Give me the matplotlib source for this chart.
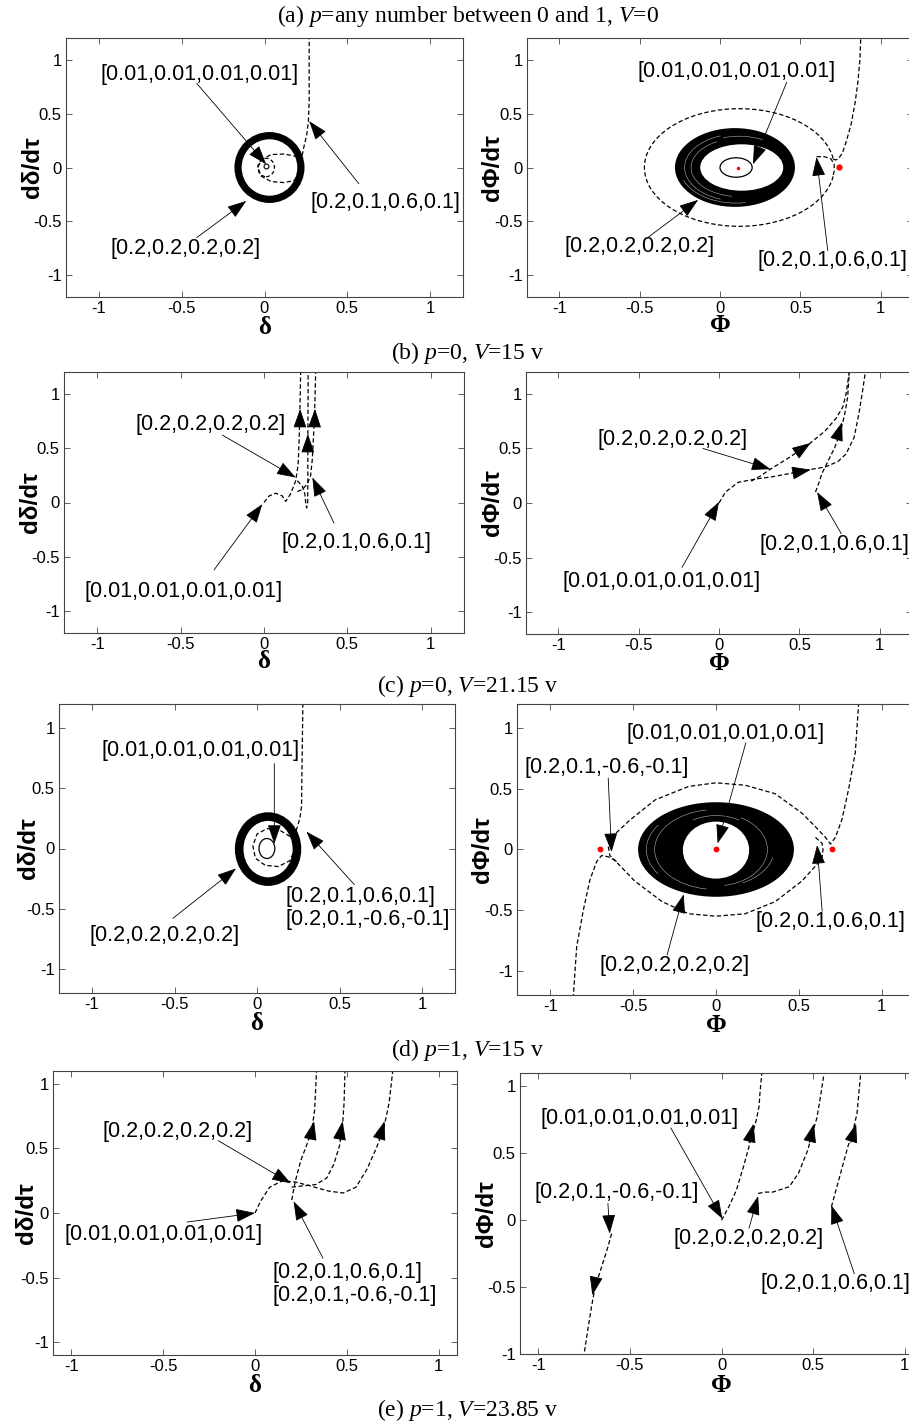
import matplotlib
matplotlib.use('Agg')
import matplotlib.pyplot as plt
from matplotlib.patches import Ellipse, Arc

plt.rcParams['font.family'] = ['Liberation Sans', 'DejaVu Sans']
plt.rcParams['mathtext.fontset'] = 'custom'
plt.rcParams['mathtext.rm'] = 'Liberation Serif'
plt.rcParams['mathtext.it'] = 'Liberation Serif:italic'

W, H = 909, 1425

TICKS = [-1, -0.5, 0, 0.5, 1]
TICK_LABELS = ['-1', '-0.5', '0', '0.5', '1']

CAPTIONS = ['(a) $p$=any number between 0 and 1, $V$=0',
            '(b) $p$=0, $V$=15 v',
            '(c) $p$=0, $V$=21.15 v',
            '(d) $p$=1, $V$=15 v',
            '(e) $p$=1, $V$=23.85 v']
CAPTION_Y = [16, 353, 686, 1050, 1410]

L1 = '[0.01,0.01,0.01,0.01]'
L2 = '[0.2,0.2,0.2,0.2]'
L3 = '[0.2,0.1,0.6,0.1]'
L4 = '[0.2,0.1,-0.6,-0.1]'

# ---- (a) delta
AL_RING = (0.03, 0.0, 0.38, 0.59)
AL_SMALL = (0.01, 0.0, 0.1, 0.17)
AL_T3_X = [0.2, 0.12, 0.04, -0.02, -0.04, -0.02, 0.04, 0.12, 0.18, 0.21, 0.22, 0.235, 0.255, 0.265, 0.27, 0.27, 0.27]
AL_T3_Y = [0.1, 0.125, 0.12, 0.07, 0.0, -0.08, -0.13, -0.14, -0.12, -0.05, 0.05, 0.17, 0.3, 0.42, 0.6, 0.9, 1.2]

# ---- (a) phi
AR_OUTER = (0.093, 0.0, 0.746, 0.73)
AR_INNER = (0.135, 0.0, 0.516, 0.43)
AR_SMALL = (0.10, 0.0, 0.2, 0.18)
AR_LOOP = (0.12, 0.0, 1.18, 1.09, 8, 352)
AR_START_X = [0.6, 0.65, 0.69, 0.71, 0.71, 0.704]
AR_START_Y = [0.1, 0.1, 0.08, 0.03, -0.03, -0.076]
AR_EXIT_X = [0.704, 0.72, 0.735, 0.76, 0.785, 0.815, 0.84, 0.858, 0.87, 0.875]
AR_EXIT_Y = [0.076, 0.07, 0.08, 0.13, 0.24, 0.4, 0.6, 0.8, 1.0, 1.2]
AR_EQ_X = [0.74]
AR_EQ_Y = [0.005]

# ---- (b) delta
BL_T1_X = [0.0, 0.03, 0.07, 0.11, 0.13, 0.16, 0.19, 0.205, 0.21, 0.215, 0.22]
BL_T1_Y = [0.0, 0.06, 0.085, 0.06, 0.01, 0.08, 0.2, 0.35, 0.55, 0.8, 1.2]
BL_T2_X = [0.2, 0.23, 0.245, 0.25, 0.256, 0.262, 0.263, 0.263, 0.264, 0.265]
BL_T2_Y = [0.2, 0.15, 0.08, 0.0, -0.05, 0.0, 0.2, 0.5, 0.8, 1.2]
BL_T3_X = [0.2, 0.23, 0.26, 0.28, 0.29, 0.295, 0.3, 0.305, 0.31]
BL_T3_Y = [0.1, 0.12, 0.17, 0.25, 0.4, 0.55, 0.7, 0.9, 1.2]

# ---- (b) phi
BR_T1_X = [0.0, 0.04, 0.12, 0.23, 0.33, 0.44, 0.54, 0.66, 0.74, 0.79, 0.84, 0.87, 0.89, 0.91]
BR_T1_Y = [0.0, 0.1, 0.19, 0.22, 0.24, 0.27, 0.3, 0.33, 0.38, 0.45, 0.6, 0.82, 1.0, 1.2]
BR_T2_X = [0.2, 0.26, 0.32, 0.44, 0.56, 0.66, 0.73, 0.77, 0.79, 0.81]
BR_T2_Y = [0.2, 0.25, 0.31, 0.42, 0.54, 0.66, 0.78, 0.88, 1.0, 1.2]
BR_T3_X = [0.6, 0.62, 0.64, 0.68, 0.72, 0.75, 0.78, 0.8, 0.81]
BR_T3_Y = [0.1, 0.18, 0.27, 0.39, 0.51, 0.63, 0.8, 0.97, 1.2]

# ---- (c) delta
CL_RING = (0.067, -0.005, 0.35, 0.54)
CL_SMALL = (0.06, 0.0, 0.096, 0.166)
CL_T3_X = [0.2, 0.14, 0.06, 0.0, -0.025, -0.01, 0.05, 0.13, 0.2, 0.225, 0.225, 0.24, 0.26, 0.27, 0.272, 0.275, 0.278]
CL_T3_Y = [0.1, 0.15, 0.165, 0.12, 0.02, -0.08, -0.14, -0.15, -0.1, -0.02, 0.06, 0.16, 0.25, 0.35, 0.6, 0.9, 1.2]

# ---- (c) phi
CR_OUTER = (0.0, 0.0, 0.94, 0.78)
CR_INNER = (0.0, -0.005, 0.4, 0.47)
CR_T3_X = [0.6, 0.64, 0.645, 0.64, 0.617, 0.518, 0.357, 0.176, 0.0, -0.165, -0.325, -0.49, -0.61, -0.65, -0.69,
           -0.72, -0.76, -0.8, -0.84, -0.86]
CR_T3_Y = [0.1, 0.05, 0.0, -0.06, -0.11, -0.26, -0.43, -0.53, -0.55, -0.53, -0.43, -0.26, -0.09, -0.06, -0.05,
           -0.1, -0.25, -0.5, -0.8, -1.2]
CR_T4_X = [-0.6, -0.64, -0.65, -0.627, -0.518, -0.366, -0.165, 0.0, 0.176, 0.357, 0.518, 0.598, 0.66, 0.69,
           0.72, 0.76, 0.8, 0.84, 0.86]
CR_T4_Y = [-0.1, -0.05, 0.03, 0.105, 0.244, 0.41, 0.52, 0.55, 0.53, 0.46, 0.3, 0.19, 0.1, 0.045, 0.1, 0.25, 0.5,
           0.8, 1.2]
CR_EQ_X = [-0.7, 0.0, 0.7]
CR_EQ_Y = [0.0, 0.0, 0.0]

# ---- (d) delta
DL_T1_X = [0.0, 0.03, 0.08, 0.15, 0.22, 0.3, 0.4, 0.48, 0.55, 0.61, 0.66, 0.7, 0.73, 0.75]
DL_T1_Y = [0.0, 0.09, 0.2, 0.25, 0.24, 0.21, 0.17, 0.155, 0.2, 0.34, 0.5, 0.65, 0.85, 1.1]
DL_T2_X = [0.2, 0.26, 0.33, 0.39, 0.43, 0.46, 0.475, 0.485, 0.49]
DL_T2_Y = [0.2, 0.21, 0.22, 0.27, 0.38, 0.52, 0.65, 0.85, 1.1]
DL_T3_X = [0.2, 0.22, 0.25, 0.28, 0.31, 0.325, 0.33, 0.335]
DL_T3_Y = [0.1, 0.25, 0.41, 0.52, 0.65, 0.8, 0.95, 1.1]

# ---- (d) phi
DR_T1_X = [0.0, 0.04, 0.08, 0.12, 0.16, 0.19, 0.205, 0.21, 0.22]
DR_T1_Y = [0.0, 0.1, 0.22, 0.4, 0.6, 0.75, 0.85, 0.95, 1.1]
DR_T2_X = [0.2, 0.24, 0.28, 0.37, 0.42, 0.47, 0.5, 0.52, 0.54, 0.56]
DR_T2_Y = [0.2, 0.21, 0.21, 0.25, 0.35, 0.52, 0.67, 0.76, 0.92, 1.1]
DR_T3_X = [0.6, 0.63, 0.66, 0.69, 0.72, 0.74, 0.75, 0.76]
DR_T3_Y = [0.1, 0.25, 0.4, 0.55, 0.68, 0.8, 0.95, 1.1]
DR_T4_X = [-0.6, -0.62, -0.65, -0.69, -0.71, -0.73, -0.75]
DR_T4_Y = [-0.1, -0.2, -0.33, -0.5, -0.65, -0.82, -1.0]

fig = plt.figure(figsize=(W / 100, H / 100), dpi=100)
DASH = (0, (3.5, 2))


def make_ax(l, t, r, b, xlim, ylim, xl, yl, yoff, xoff):
    ax = fig.add_axes([l / W, 1 - b / H, (r - l) / W, (b - t) / H])
    ax.set_xlim(xlim)
    ax.set_ylim(ylim)
    ax.set_xticks(TICKS)
    ax.set_xticklabels(TICK_LABELS)
    ax.set_yticks(TICKS)
    ax.set_yticklabels(TICK_LABELS)
    ax.tick_params(direction='in', top=True, right=True, length=4, width=0.6,
                   color='#444444', labelsize=12, labelcolor='k')
    ax.tick_params(axis='x', pad=3)
    ax.tick_params(axis='y', pad=3)
    for s in ax.spines.values():
        s.set_linewidth(0.8)
        s.set_color('#444444')
    ax.set_ylabel(yl, fontsize=17.5, fontweight='bold')
    ax.yaxis.set_label_coords(-yoff / (r - l), 0.5)
    ax.yaxis.label.set_va('center')
    ax.set_xlabel(xl, family='Liberation Serif', fontsize=18, fontweight='bold')
    ax.xaxis.set_label_coords(0.5, -xoff / (b - t))
    ax.xaxis.label.set_va('center')
    return ax


def dashed(ax, xs, ys):
    ax.plot(xs, ys, color='k', lw=0.9, ls=DASH)


def head(ax, tip, tail):
    ax.annotate('', xy=tip, xytext=tail,
                arrowprops=dict(arrowstyle='-|>,head_length=0.8,head_width=0.28', color='k',
                                lw=0.6, shrinkA=0, shrinkB=0, mutation_scale=15))


def label(ax, txt, pos, tail, tip, ha='center'):
    ax.text(pos[0], pos[1], txt, ha=ha, va='center', fontsize=15.5)
    head(ax, tip, tail)


def band(ax, outer, inner, streaks):
    ax.add_patch(Ellipse(outer[:2], outer[2], outer[3], color='k', lw=0))
    ax.add_patch(Ellipse(inner[:2], inner[2], inner[3], color='w', lw=0))
    for (cx, cy, w, h, t1, t2) in streaks:
        ax.add_patch(Arc((cx, cy), w, h, theta1=t1, theta2=t2, color='w', lw=0.4, alpha=0.7))


DLAB = 'd\u03b4/d\u03c4'
PLAB = 'd\u03a6/d\u03c4'
LIM12 = (-1.2, 1.2)

for cap, cy in zip(CAPTIONS, CAPTION_Y):
    fig.text(468 / W, 1 - cy / H, cap, ha='center', va='center', fontsize=17, family='Liberation Serif')

# (a) delta
ax = make_ax(66, 38, 463, 297, LIM12, LIM12, '\u03b4', DLAB, 33, 30)
ax.add_patch(Ellipse(AL_RING[:2], AL_RING[2], AL_RING[3], fill=False, color='k', lw=5.2))
ax.add_patch(Ellipse(AL_SMALL[:2], AL_SMALL[2], AL_SMALL[3], fill=False, color='k', lw=0.9, ls=(0, (3, 2))))
ax.plot([0.01], [0.01], 'o', mfc='none', mec='k', ms=3.5, mew=0.8)
dashed(ax, AL_T3_X, AL_T3_Y)
label(ax, L1, (-0.39, 0.865), (-0.41, 0.78), (0.01, 0.03))
label(ax, L2, (-0.48, -0.75), (-0.41, -0.65), (-0.11, -0.31))
label(ax, L3, (0.73, -0.325), (0.57, -0.15), (0.27, 0.43))

# (a) phi
ax = make_ax(527, 38, 913, 297, LIM12, LIM12, '\u03a6', PLAB, 35, 28)
band(ax, AR_OUTER, AR_INNER, [(0.11, 0.0, 0.66, 0.62, 110, 250), (0.12, 0.0, 0.6, 0.54, 120, 260),
                             (0.1, 0.0, 0.7, 0.66, 200, 280), (0.12, 0.0, 0.62, 0.58, 60, 110)])
ax.add_patch(Ellipse(AR_SMALL[:2], AR_SMALL[2], AR_SMALL[3], fill=False, color='k', lw=0.9))
ax.plot([0.11], [0.0], 'o', color='r', ms=1.5)
ax.add_patch(Arc(AR_LOOP[:2], AR_LOOP[2], AR_LOOP[3], theta1=AR_LOOP[4], theta2=AR_LOOP[5],
                 color='k', lw=0.9, ls=DASH))
dashed(ax, AR_START_X, AR_START_Y)
dashed(ax, AR_EXIT_X, AR_EXIT_Y)
ax.plot(AR_EQ_X, AR_EQ_Y, 'o', color='r', ms=3.5)
label(ax, L1, (0.10, 0.89), (0.415, 0.79), (0.205, 0.03))
label(ax, L2, (-0.50, -0.73), (-0.45, -0.65), (-0.136, -0.30))
label(ax, L3, (0.70, -0.865), (0.67, -0.77), (0.60, 0.096))

# (b) delta
ax = make_ax(64, 372, 464, 633, LIM12, LIM12, '\u03b4', DLAB, 34, 29)
dashed(ax, BL_T1_X, BL_T1_Y)
dashed(ax, BL_T2_X, BL_T2_Y)
dashed(ax, BL_T3_X, BL_T3_Y)
head(ax, (0.217, 0.86), (0.216, 0.72))
head(ax, (0.263, 0.63), (0.263, 0.5))
head(ax, (0.306, 0.86), (0.304, 0.72))
label(ax, L2, (-0.32, 0.72), (-0.25, 0.62), (0.19, 0.23))
label(ax, L3, (0.557, -0.365), (0.42, -0.19), (0.29, 0.23))
label(ax, L1, (-0.48, -0.82), (-0.3, -0.62), (-0.01, -0.015))

# (b) phi
ax = make_ax(526, 372, 912, 634, LIM12, LIM12, '\u03a6', PLAB, 33, 29)
dashed(ax, BR_T1_X, BR_T1_Y)
dashed(ax, BR_T2_X, BR_T2_Y)
dashed(ax, BR_T3_X, BR_T3_Y)
head(ax, (0.57, 0.55), (0.48, 0.46))
head(ax, (0.57, 0.305), (0.46, 0.275))
head(ax, (0.765, 0.74), (0.735, 0.6))
label(ax, L2, (-0.29, 0.58), (-0.1, 0.5), (0.32, 0.31))
label(ax, L3, (0.72, -0.38), (0.76, -0.28), (0.61, 0.1))
label(ax, L1, (-0.36, -0.72), (-0.23, -0.59), (0.0, 0.01))

# (c) delta
ax = make_ax(59, 704, 455, 993, LIM12, LIM12, '\u03b4', DLAB, 31, 31)
ax.add_patch(Ellipse(CL_RING[:2], CL_RING[2], CL_RING[3], fill=False, color='k', lw=6.2))
ax.add_patch(Ellipse(CL_SMALL[:2], CL_SMALL[2], CL_SMALL[3], fill=False, color='k', lw=0.9))
dashed(ax, CL_T3_X, CL_T3_Y)
label(ax, L1, (-0.34, 0.81), (0.105, 0.705), (0.105, 0.04))
label(ax, L2, (-0.56, -0.72), (-0.51, -0.58), (-0.127, -0.166))
ax.text(0.175, -0.40, L3, ha='left', va='center', fontsize=15.5)
label(ax, L4, (0.175, -0.59), (0.59, -0.30), (0.30, 0.14), ha='left')

# (c) phi
ax = make_ax(517, 704, 915, 995, LIM12, LIM12, '\u03a6', PLAB, 34, 31)
band(ax, CR_OUTER, CR_INNER, [(0.0, 0.0, 0.74, 0.66, 100, 260), (0.0, 0.0, 0.62, 0.6, 280, 420),
                             (0.0, 0.0, 0.84, 0.72, 150, 210), (0.0, 0.0, 0.56, 0.56, 60, 120),
                             (0.0, 0.0, 0.7, 0.62, 300, 350)])
dashed(ax, CR_T3_X, CR_T3_Y)
dashed(ax, CR_T4_X, CR_T4_Y)
ax.plot(CR_EQ_X, CR_EQ_Y, 'o', color='r', ms=3.2)
label(ax, L1, (0.056, 0.96), (0.18, 0.88), (0.01, 0.05))
label(ax, L4, (-0.66, 0.675), (-0.65, 0.59), (-0.63, -0.02))
label(ax, L3, (0.69, -0.595), (0.64, -0.51), (0.61, 0.036))
label(ax, L2, (-0.25, -0.96), (-0.295, -0.87), (-0.195, -0.37))

# (d) delta
ax = make_ax(53, 1071, 457, 1355, (-1.1, 1.1), (-1.1, 1.1), '\u03b4', DLAB, 26, 30)
dashed(ax, DL_T1_X, DL_T1_Y)
dashed(ax, DL_T2_X, DL_T2_Y)
dashed(ax, DL_T3_X, DL_T3_Y)
head(ax, (0.322, 0.71), (0.3, 0.57))
head(ax, (0.477, 0.71), (0.46, 0.57))
head(ax, (0.705, 0.71), (0.675, 0.57))
label(ax, L2, (-0.42, 0.63), (-0.20, 0.56), (0.195, 0.23))
label(ax, L1, (-0.50, -0.17), (-0.37, -0.07), (0.0, 0.0))
ax.text(0.095, -0.46, L3, ha='left', va='center', fontsize=15.5)
label(ax, L4, (0.095, -0.64), (0.37, -0.35), (0.21, 0.09), ha='left')

# (d) phi
ax = make_ax(520, 1073, 923, 1354, (-1.1, 1.1), (-1.0, 1.1), '\u03a6', PLAB, 33, 32)
dashed(ax, DR_T1_X, DR_T1_Y)
dashed(ax, DR_T2_X, DR_T2_Y)
dashed(ax, DR_T3_X, DR_T3_Y)
dashed(ax, DR_T4_X, DR_T4_Y)
head(ax, (0.175, 0.72), (0.15, 0.58))
head(ax, (0.505, 0.72), (0.48, 0.58))
head(ax, (0.735, 0.72), (0.705, 0.58))
head(ax, (-0.705, -0.56), (-0.685, -0.43))
label(ax, L1, (-0.45, 0.76), (-0.277, 0.69), (0.005, 0.01))
label(ax, L4, (-0.57, 0.21), (-0.62, 0.125), (-0.61, -0.1))
label(ax, L2, (0.147, -0.137), (0.15, -0.06), (0.2, 0.18))
label(ax, L3, (0.215, -0.47), (0.725, -0.40), (0.6, 0.11), ha='left')

fig.savefig('out.png', dpi=100)
